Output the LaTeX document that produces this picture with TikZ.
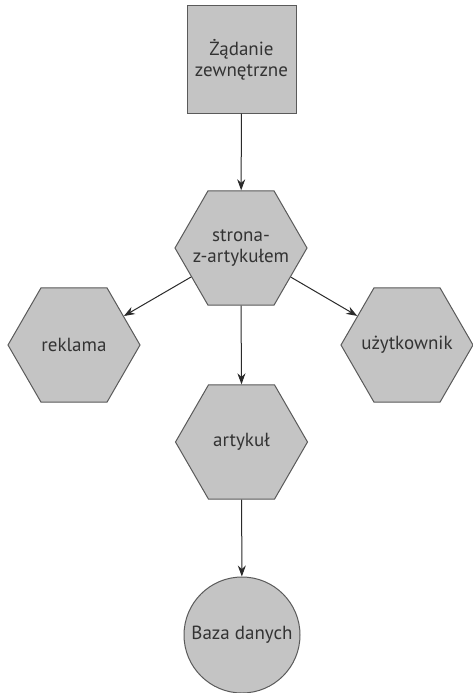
\documentclass[tikz,border=0pt]{standalone}
\usepackage{fontspec}
\setsansfont{PT Sans}
\usetikzlibrary{shapes.geometric,arrows.meta}
\definecolor{fillg}{HTML}{C4C4C4}
\definecolor{edgeg}{HTML}{5A5A5A}
\definecolor{textg}{HTML}{333333}
\definecolor{lineg}{HTML}{2A2A2A}
\begin{document}
\begin{tikzpicture}[x=1pt,y=-1pt,
  box/.style={draw=edgeg, fill=fillg, line width=1pt, text=textg,
    font=\sffamily\fontsize{19}{21}\selectfont, align=center, inner sep=0pt},
  hexa/.style={box, regular polygon, regular polygon sides=6, minimum size=132pt, inner sep=-30pt},
  sq/.style={box, rectangle, minimum width=109pt, minimum height=107pt},
  dbase/.style={box, circle, minimum size=116pt, inner sep=-20pt},
  conn/.style={draw=lineg, line width=1pt, -{Stealth[length=11pt,width=8pt]}}
]
\useasboundingbox (0,0) rectangle (473,693);
\fill[white] (0,0) rectangle (473,693);
\node[sq] (req) at (241.5,59.5) {Żądanie\\zewnętrzne};
\node[hexa] (page) at (241,248) {strona-\\z-artykułem};
\node[hexa] (ad) at (74,345) {reklama};
\node[hexa] (user) at (407,345) {użytkownik};
\node[hexa] (art) at (241.5,442) {artykuł};
\node[dbase] (db) at (242,635) {Baza danych};
\draw[conn] (req) -- (page);
\draw[conn] (page) -- (ad);
\draw[conn] (page) -- (user);
\draw[conn] (page.south) -- (art.north);
\draw[conn] (art) -- (db);
\end{tikzpicture}
\end{document}
